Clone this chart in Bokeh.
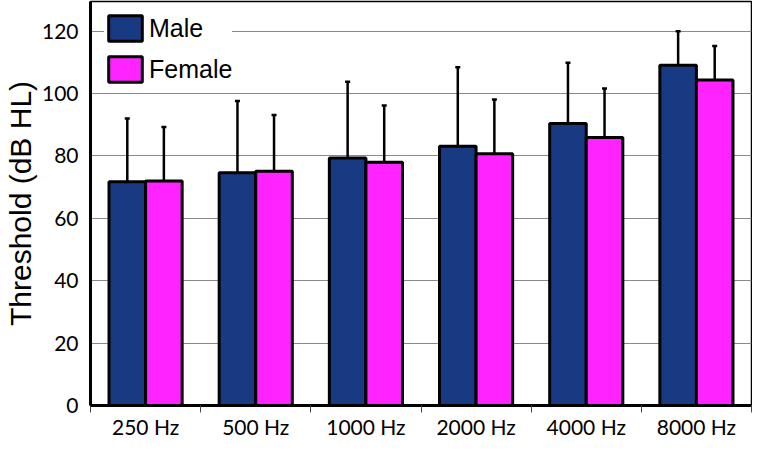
from bokeh.plotting import figure
from bokeh.models import ColumnDataSource, FixedTicker, Whisker, TeeHead, Legend, LegendItem, Range1d
from bokeh.transform import dodge
from bokeh.embed import file_html
from bokeh.resources import INLINE

categories = ["250 Hz", "500 Hz", "1000 Hz", "2000 Hz", "4000 Hz", "8000 Hz"]
male_mean = [71.7, 74.6, 79.3, 83.1, 90.4, 109.1]
male_sd = [20.3, 23.0, 24.5, 25.3, 19.5, 10.9]
female_mean = [72.0, 75.1, 78.0, 80.7, 85.9, 104.3]
female_sd = [17.3, 18.0, 18.2, 17.4, 15.7, 10.9]
y_ticks = [0, 20, 40, 60, 80, 100, 120]

centers = [i + 0.5 for i in range(len(categories))]
bounds = list(range(len(categories) + 1))

src = ColumnDataSource(dict(
    x=centers,
    male=male_mean,
    female=female_mean,
    male_top=[m + s for m, s in zip(male_mean, male_sd)],
    female_top=[m + s for m, s in zip(female_mean, female_sd)],
))

p = figure(width=752, height=441, output_backend="svg", toolbar_location=None,
           x_range=Range1d(0, len(categories)), y_range=Range1d(0, 129.5),
           min_border_left=86, min_border_right=1, min_border_top=1, min_border_bottom=30)

off = 0.166
bw = 0.332
mb = p.vbar(x=dodge("x", -off, range=p.x_range), top="male", width=bw, source=src,
            fill_color="#183a83", line_color="black", line_width=3)
fb = p.vbar(x=dodge("x", off, range=p.x_range), top="female", width=bw, source=src,
            fill_color="#ff24ff", line_color="black", line_width=3)

for name, o in (("male", -off), ("female", off)):
    w = Whisker(base=dodge("x", o, range=p.x_range), lower=name, upper=name + "_top", source=src,
                line_color="black", line_width=2.5,
                upper_head=TeeHead(size=5, line_color="black", line_width=2.5),
                lower_head=None, level="underlay")
    p.add_layout(w)

# axes
p.xaxis.ticker = FixedTicker(ticks=centers, minor_ticks=bounds)
p.xaxis.major_label_overrides = {c: lab for c, lab in zip(centers, categories)}
p.xaxis.major_tick_line_color = None
p.xaxis.major_tick_out = 0
p.xaxis.major_tick_in = 0
p.xaxis.minor_tick_out = 7
p.xaxis.minor_tick_in = 0
p.xaxis.minor_tick_line_color = "#444444"
p.xaxis.minor_tick_line_width = 1
p.xaxis.axis_line_width = 3
p.xaxis.axis_line_color = "black"
p.xaxis.major_label_text_font = "Lato"
p.xaxis.major_label_text_font_size = "21px"
p.xaxis.major_label_text_color = "black"
p.xaxis.major_label_standoff = 1

p.yaxis.ticker = FixedTicker(ticks=y_ticks)
p.yaxis.minor_tick_line_color = None
p.yaxis.major_tick_out = 0
p.yaxis.major_tick_in = 0
p.yaxis.axis_line_width = 3
p.yaxis.axis_line_color = "black"
p.yaxis.major_label_text_font = "Lato"
p.yaxis.major_label_text_font_size = "21px"
p.yaxis.major_label_text_color = "black"
p.yaxis.major_label_standoff = 12
p.yaxis.axis_label = "Threshold (dB HL)"
p.yaxis.axis_label_text_font = "Liberation Sans"
p.yaxis.axis_label_text_font_size = "30px"
p.yaxis.axis_label_text_font_style = "normal"
p.yaxis.axis_label_text_color = "black"
p.yaxis.axis_label_standoff = 2

p.xgrid.grid_line_color = None
p.ygrid.grid_line_color = "#8a8a8a"
p.ygrid.grid_line_width = 1

p.outline_line_color = "black"
p.outline_line_width = 1.5
p.background_fill_color = "white"
p.border_fill_color = "white"

legend = Legend(items=[LegendItem(label="Male", renderers=[mb]),
                       LegendItem(label="Female", renderers=[fb])],
                location=(14, 320), orientation="vertical",
                glyph_width=42, glyph_height=32, spacing=9, padding=6,
                label_standoff=3, label_text_font="Liberation Sans",
                label_text_font_size="25px", label_text_color="black",
                border_line_color=None, background_fill_color="white",
                background_fill_alpha=1.0, margin=0)
p.add_layout(legend, "center")

open("out.html", "w").write(file_html(p, INLINE))
